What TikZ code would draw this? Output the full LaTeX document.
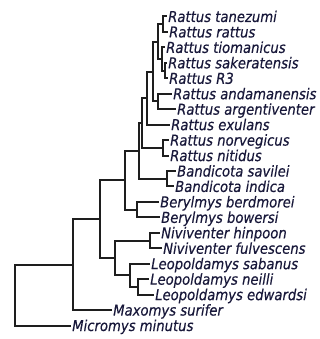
\documentclass[tikz,border=0pt]{standalone}
\usepackage{fontspec}
\setmainfont{DejaVu Sans}
\newfontfamily\labfont{DejaVu Sans}[FakeStretch=0.88, FakeBold=0.35]
\usepackage{xcolor}
\definecolor{cBranch}{HTML}{1E1E1E}
\definecolor{cLabel}{HTML}{18183A}
\usepackage{tikz}

\begin{document}
\begin{tikzpicture}[
    x=1pt, y=-1pt,
    br/.style  = {line width=2pt, color=cBranch},
    lab/.style = {anchor=base west, inner sep=0pt, xshift=1.5pt, yshift=-5.5pt,
                  font=\labfont\fontsize{15}{17}\selectfont\itshape, text=cLabel}
]
\useasboundingbox (0,0) rectangle (320,339);

% --- Konce vetvi (tipy), radky po 15.45 ----------------------------------
\coordinate (tTan) at (166.5, 16.5);
\coordinate (tRat) at (167.5, 31.95);
\coordinate (tTio) at (164.5, 47.4);
\coordinate (tSak) at (166.5, 62.85);
\coordinate (tR3)  at (167.5, 78.3);
\coordinate (tAnd) at (171.5, 93.75);
\coordinate (tArg) at (175.5,109.2);
\coordinate (tExu) at (169.5,124.65);
\coordinate (tNor) at (168.5,140.1);
\coordinate (tNit) at (168.5,155.55);
\coordinate (tSav) at (175.5,171.0);
\coordinate (tInd) at (173.5,186.45);
\coordinate (tBer) at (158.5,201.9);
\coordinate (tBow) at (159.5,217.35);
\coordinate (tHin) at (159.5,232.8);
\coordinate (tFul) at (161.5,248.25);
\coordinate (tSab) at (149.5,263.7);
\coordinate (tNei) at (148.5,279.15);
\coordinate (tEdw) at (153.5,294.6);
\coordinate (tMax) at (111.5,310.05);
\coordinate (tMic) at ( 70.5,325.5);

% --- Popisky druhu --------------------------------------------------------
\node[lab] (lTan) at (tTan) {Rattus tanezumi};
\node[lab] (lRat) at (tRat) {Rattus rattus};
\node[lab] (lTio) at (tTio) {Rattus tiomanicus};
\node[lab] (lSak) at (tSak) {Rattus sakeratensis};
\node[lab] (lR3)  at (tR3)  {Rattus R3};
\node[lab] (lAnd) at (tAnd) {Rattus andamanensis};
\node[lab] (lArg) at (tArg) {Rattus argentiventer};
\node[lab] (lExu) at (tExu) {Rattus exulans};
\node[lab] (lNor) at (tNor) {Rattus norvegicus};
\node[lab] (lNit) at (tNit) {Rattus nitidus};
\node[lab] (lSav) at (tSav) {Bandicota savilei};
\node[lab] (lInd) at (tInd) {Bandicota indica};
\node[lab] (lBer) at (tBer) {Berylmys berdmorei};
\node[lab] (lBow) at (tBow) {Berylmys bowersi};
\node[lab] (lHin) at (tHin) {Niviventer hinpoon};
\node[lab] (lFul) at (tFul) {Niviventer fulvescens};
\node[lab] (lSab) at (tSab) {Leopoldamys sabanus};
\node[lab] (lNei) at (tNei) {Leopoldamys neilli};
\node[lab] (lEdw) at (tEdw) {Leopoldamys edwardsi};
\node[lab] (lMax) at (tMax) {Maxomys surifer};
\node[lab] (lMic) at (tMic) {Micromys minutus};

% --- Vnitrni uzly: x = vyska uzlu, y = stred mezi potomky ----------------
\coordinate (rTR)   at (163,   24.2);
\coordinate (rSR3)  at (164.5, 70.6);
\coordinate (rTSR)  at (162,   59.0);
\coordinate (rRat)  at (157.5, 41.6);
\coordinate (rAA)   at (157.5,101.5);
\coordinate (rBlk)  at (152.5, 71.55);
\coordinate (rEx)   at (146.5, 98.1);
\coordinate (rNN)   at (163,  147.8);
\coordinate (rCore) at (141.5,122.95);
\coordinate (bBand) at (167,  178.7);
\coordinate (nE)    at (138.5,150.8);
\coordinate (bBer)  at (137,  209.6);
\coordinate (nC)    at (125,  180.2);
\coordinate (nNiv)  at (150,  240.5);
\coordinate (nLEN)  at (137.5,286.9);
\coordinate (nLeo)  at (130,  275.3);
\coordinate (nD)    at (115,  257.9);
\coordinate (nB)    at ( 99.5,219.05);
\coordinate (nA)    at ( 73,  264.55);
\coordinate (root)  at ( 15,  295.0);

% --- Vetve: kazdy uzel = horni potomek -| uzel |- dolni potomek -----------
% Rattus
\draw[br] (tTan) -| (rTR) |- (tRat);
\draw[br] (tSak) -| (rSR3) |- (tR3);
\draw[br] (tTio) -| (rTSR) |- (rSR3);
\draw[br] (rTR) -| (rRat) |- (rTSR);
\draw[br] (tAnd) -| (rAA) |- (tArg);
\draw[br] (rRat) -| (rBlk) |- (rAA);
\draw[br] (rBlk) -| (rEx) |- (tExu);
\draw[br] (tNor) -| (rNN) |- (tNit);
\draw[br] (rEx) -| (rCore) |- (rNN);
% Bandicota, Berylmys
\draw[br] (tSav) -| (bBand) |- (tInd);
\draw[br] (rCore) -| (nE) |- (bBand);
\draw[br] (tBer) -| (bBer) |- (tBow);
\draw[br] (nE) -| (nC) |- (bBer);
% Niviventer, Leopoldamys
\draw[br] (tHin) -| (nNiv) |- (tFul);
\draw[br] (tNei) -| (nLEN) |- (tEdw);
\draw[br] (tSab) -| (nLeo) |- (nLEN);
\draw[br] (nNiv) -| (nD) |- (nLeo);
% koren
\draw[br] (nC) -| (nB) |- (nD);
\draw[br] (nB) -| (nA) |- (tMax);
\draw[br] (nA) -| (root) |- (tMic);
\end{tikzpicture}
\end{document}
